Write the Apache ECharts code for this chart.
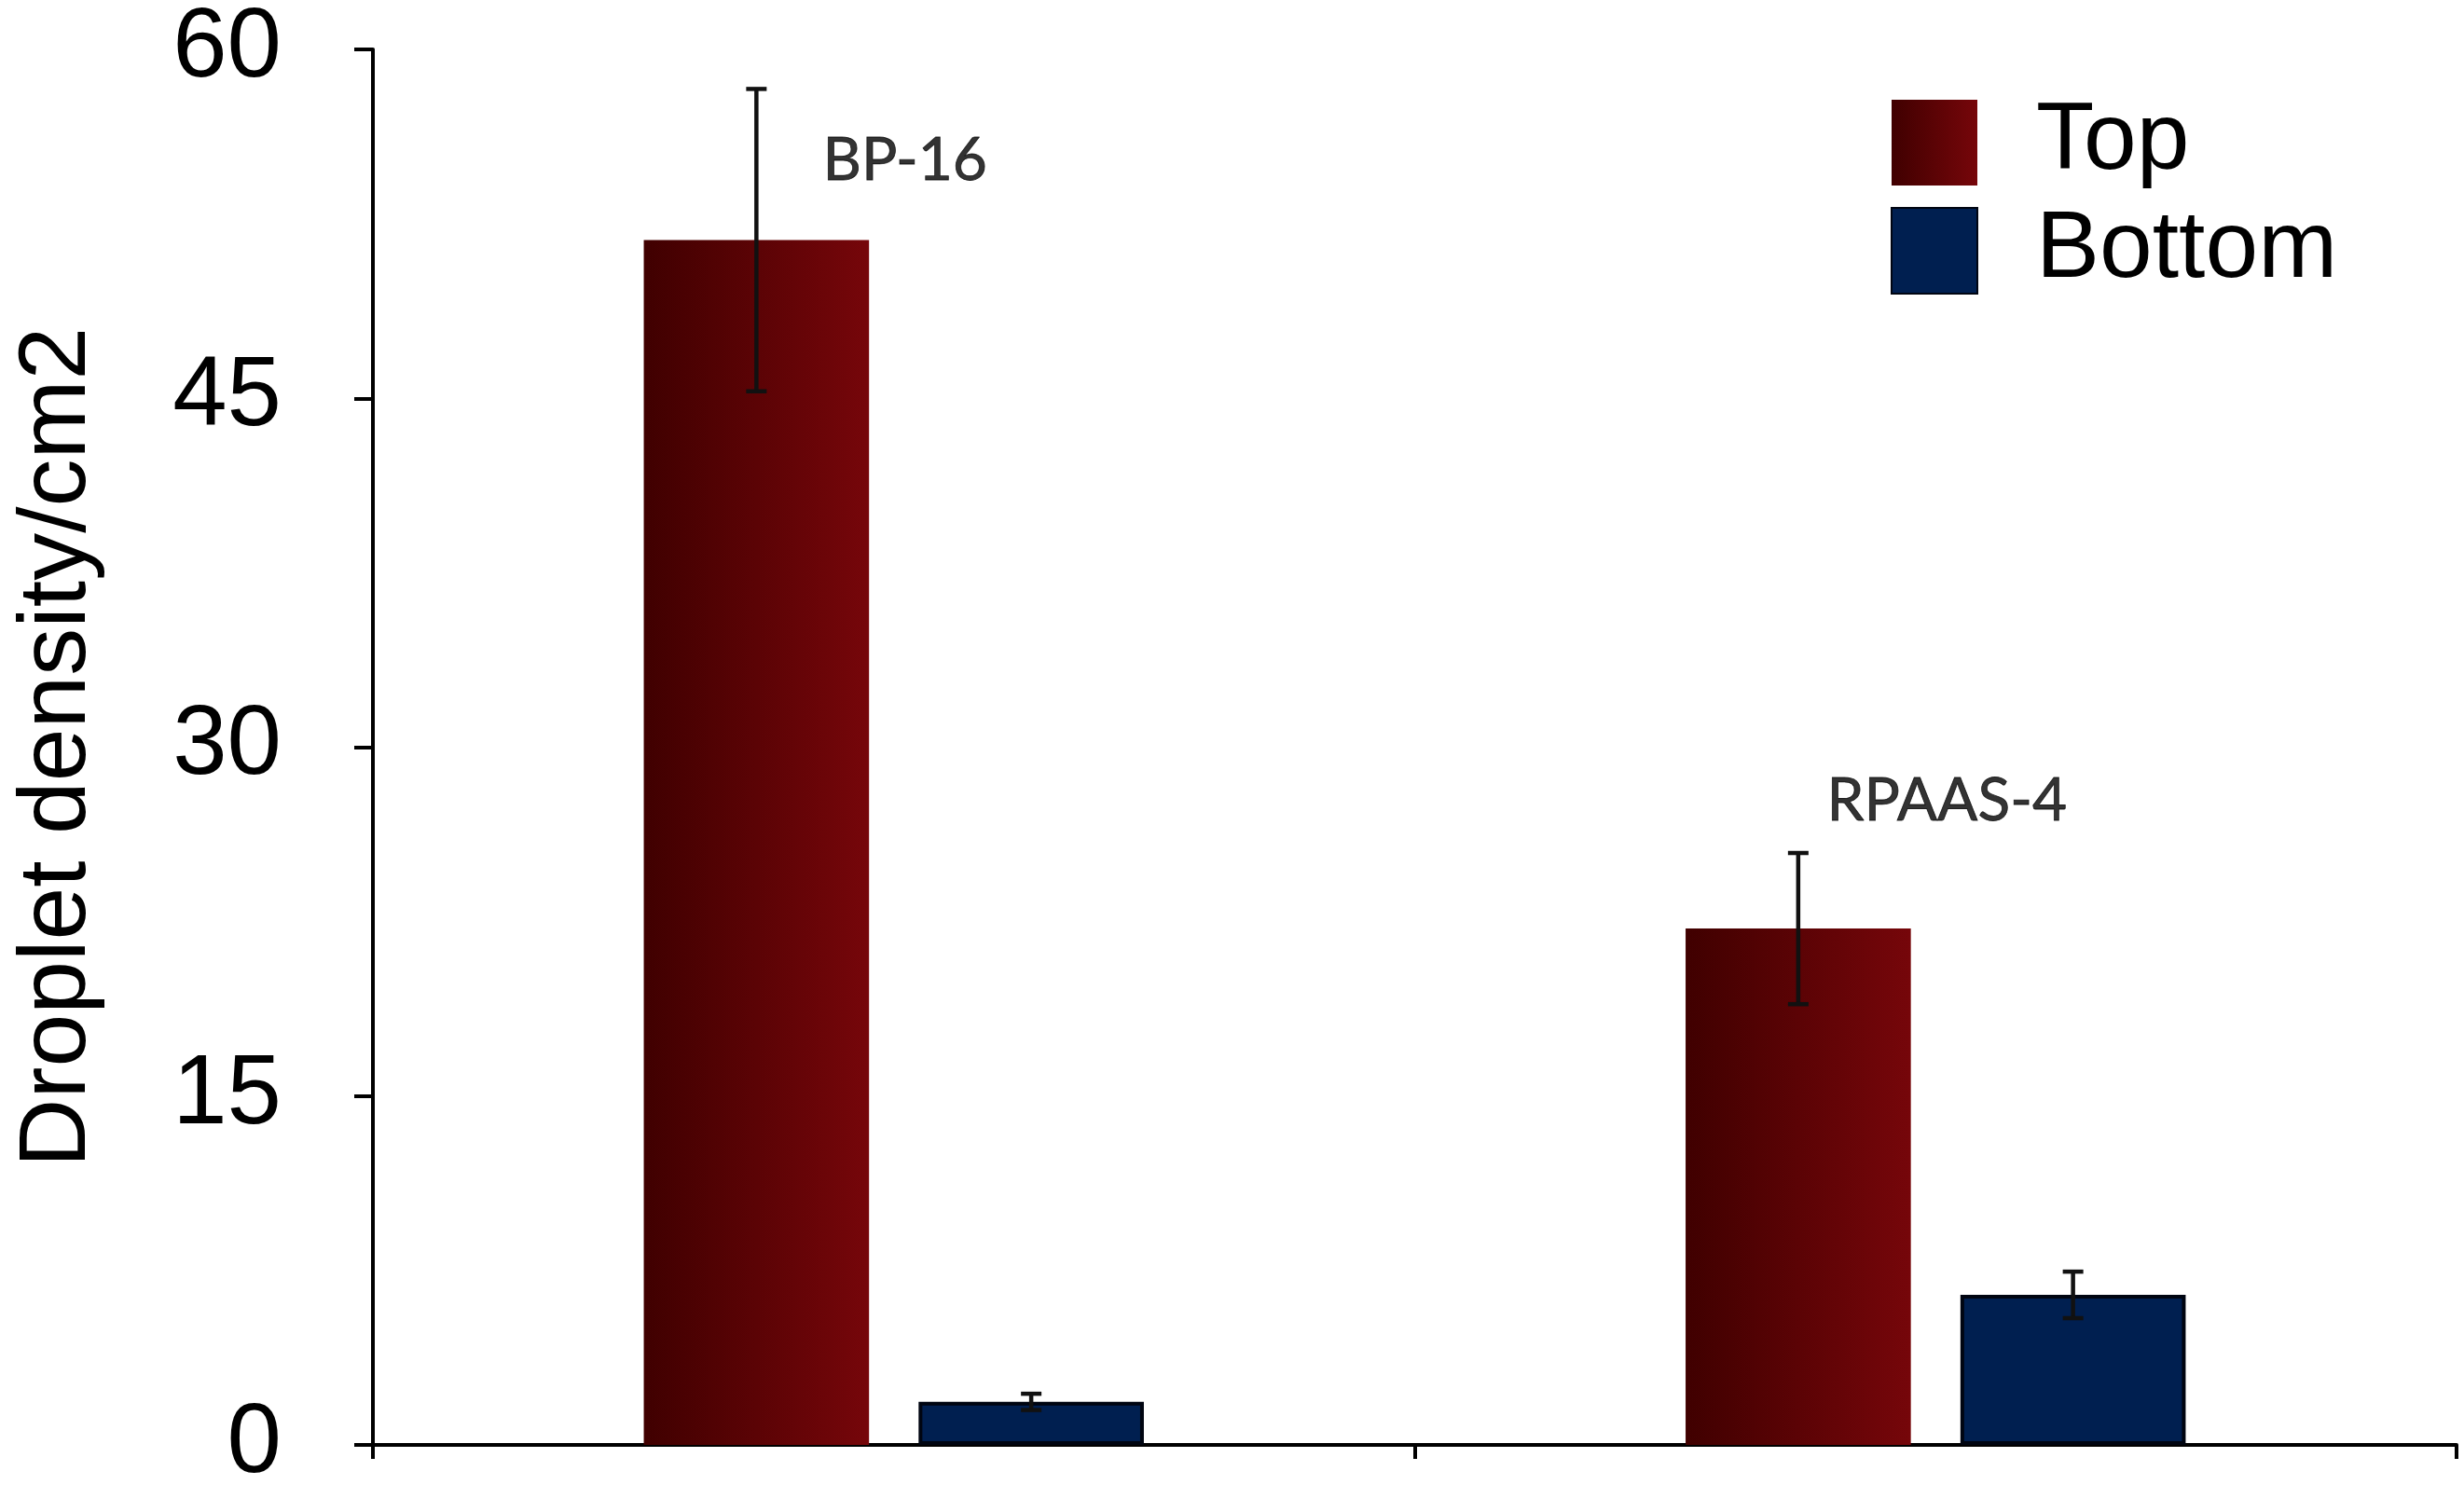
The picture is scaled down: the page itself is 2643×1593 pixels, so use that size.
<!DOCTYPE html>
<html>
<head>
<meta charset="utf-8">
<title>Droplet density</title>
<script src="https://cdn.jsdelivr.net/npm/echarts@6/dist/echarts.min.js"></script>
<style>
  html, body { margin: 0; padding: 0; background: #fff; }
  #chart { width: 2643px; height: 1593px; }
</style>
</head>
<body>
<div id="chart"></div>
<script>
// data
const categories = ["BP-16", "RPAAS-4"];
const seriesNames = ["Top", "Bottom"];
const topValues = [51.8, 22.2];
const topErrors = [6.5, 3.25];
const bottomValues = [1.85, 6.45];
const bottomErrors = [0.35, 1.0];
// height (in axis units) of the sample name written above each group
const nameHeights = [55.2, 27.7];

const BAR_GAP = "22%";
const CAT_GAP = "52%";

// error bars drawn with custom series, aligned to the bar layout
function errorBar(index) {
  return function (params, api) {
    const xi = api.value(0);
    const v = api.value(1);
    const e = api.value(2);
    const hi = api.coord([xi, v + e]);
    const lo = api.coord([xi, v - e]);
    const layout = api.barLayout({ barGap: BAR_GAP, barCategoryGap: CAT_GAP, count: 2 });
    const x = hi[0] + layout[index].offsetCenter;
    const half = 11;
    const style = { stroke: "#111", lineWidth: 4.5 };
    return {
      type: "group",
      children: [
        { type: "line", shape: { x1: x, y1: hi[1], x2: x, y2: lo[1] }, style: style },
        { type: "line", shape: { x1: x - half, y1: hi[1], x2: x + half, y2: hi[1] }, style: style },
        { type: "line", shape: { x1: x - half, y1: lo[1], x2: x + half, y2: lo[1] }, style: style }
      ]
    };
  };
}

const chart = echarts.init(document.getElementById("chart"));

const option = {
  backgroundColor: "#fff",
  animation: false,
  grid: { left: 400, right: 8, top: 53, bottom: 43, containLabel: false, outerBoundsMode: "none" },
  legend: {
    orient: "vertical",
    left: 2028,
    top: 102,
    padding: 0,
    itemWidth: 92,
    itemHeight: 92,
    itemGap: 14,
    icon: "rect",
    data: seriesNames,
    textStyle: {
      fontFamily: "Liberation Sans",
      fontSize: 102,
      lineHeight: 100,
      color: "#000",
      padding: [0, 0, 0, 58]
    }
  },
  xAxis: {
    type: "category",
    data: categories,
    axisLine: { lineStyle: { color: "#000", width: 4 } },
    axisTick: { show: true, length: 15, lineStyle: { color: "#000", width: 4 } },
    axisLabel: { show: false },
    splitLine: { show: false }
  },
  yAxis: {
    type: "value",
    min: 0,
    max: 60,
    interval: 15,
    name: "Droplet density/cm2",
    nameLocation: "middle",
    nameGap: 286,
    nameTextStyle: { fontFamily: "Liberation Sans", fontSize: 102, color: "#000" },
    axisLine: { show: true, lineStyle: { color: "#000", width: 4 } },
    axisTick: { show: true, length: 20, lineStyle: { color: "#000", width: 4 } },
    axisLabel: { fontFamily: "Liberation Sans", fontSize: 105, color: "#000", margin: 98 },
    splitLine: { show: false }
  },
  series: [
    {
      name: "Top",
      type: "bar",
      data: topValues,
      barGap: BAR_GAP,
      barCategoryGap: CAT_GAP,
      itemStyle: {
        color: new echarts.graphic.LinearGradient(0, 0, 1, 0, [
          { offset: 0, color: "#400000" },
          { offset: 1, color: "#76060a" }
        ])
      }
    },
    {
      name: "Bottom",
      type: "bar",
      data: bottomValues,
      barGap: BAR_GAP,
      barCategoryGap: CAT_GAP,
      itemStyle: { color: "#001f50", borderColor: "#000511", borderWidth: 4 }
    },
    {
      type: "custom",
      renderItem: errorBar(0),
      data: topValues.map((v, i) => [i, v, topErrors[i]]),
      encode: { x: 0, y: 1 },
      z: 10,
      silent: true
    },
    {
      type: "custom",
      renderItem: errorBar(1),
      data: bottomValues.map((v, i) => [i, v, bottomErrors[i]]),
      encode: { x: 0, y: 1 },
      z: 10,
      silent: true
    },
    {
      type: "scatter",
      symbolSize: 0,
      data: nameHeights.map((h, i) => [i, h]),
      silent: true,
      label: {
        show: true,
        position: "inside",
        offset: [12, 0],
        formatter: p => categories[p.dataIndex],
        fontFamily: "Lato",
        fontSize: 64,
        color: "#000",
        textBorderColor: "#000",
        textBorderWidth: 0.8
      }
    }
  ]
};

chart.setOption(option);
</script>
</body>
</html>
